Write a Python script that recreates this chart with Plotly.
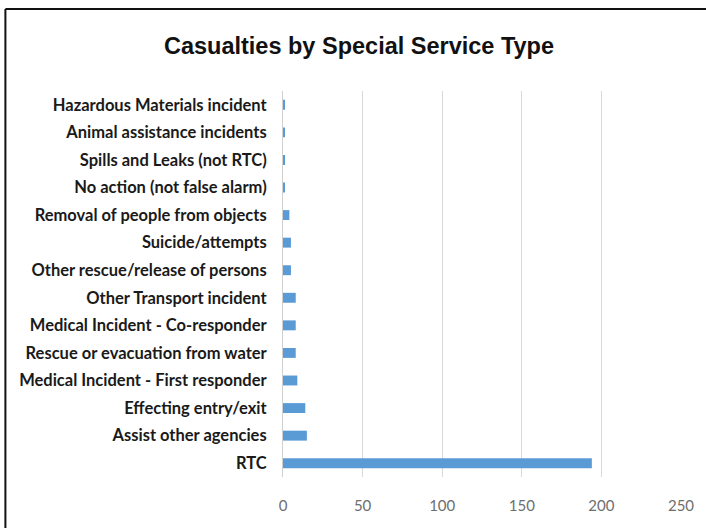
import plotly.graph_objects as go

# Special service types, listed top to bottom
categories = [
    "Hazardous Materials incident",
    "Animal assistance incidents",
    "Spills and Leaks (not RTC)",
    "No action (not false alarm)",
    "Removal of people from objects",
    "Suicide/attempts",
    "Other rescue/release of persons",
    "Other Transport incident",
    "Medical Incident - Co-responder",
    "Rescue or evacuation from water",
    "Medical Incident - First responder",
    "Effecting entry/exit",
    "Assist other agencies",
    "RTC",
]
casualties = [1, 1, 1, 1, 4, 5, 5, 8, 8, 8, 9, 14, 15, 194]
tick_values = [0, 50, 100, 150, 200, 250]

W, H = 706, 528

fig = go.Figure(
    go.Bar(
        x=casualties,
        y=categories,
        orientation="h",
        marker=dict(color="#5b9bd5", line=dict(width=0)),
        width=0.36,
    )
)

fig.update_layout(
    width=W,
    height=H,
    margin=dict(l=283, r=23, t=91, b=51),
    paper_bgcolor="white",
    plot_bgcolor="white",
    showlegend=False,
    title=dict(
        text="<b>Casualties by Special Service Type</b>",
        x=359 / W,
        xanchor="center",
        y=1 - 46 / H,
        yanchor="middle",
        font=dict(family="Liberation Sans Narrow, Arial Narrow, sans-serif",
                  size=23.5, color="#111111"),
    ),
    xaxis=dict(
        range=[0, 250],
        tickvals=tick_values,
        showgrid=True,
        gridcolor="#d9d9d9",
        gridwidth=1,
        zeroline=False,
        showline=False,
        ticks="",
        ticklabelstandoff=18,
        tickfont=dict(family="Lato, sans-serif", size=15, color="#6e6e6e"),
    ),
    yaxis=dict(
        autorange="reversed",
        showline=True,
        linecolor="#d0d0d0",
        linewidth=1,
        showgrid=False,
        ticks="",
        ticklabelstandoff=12,
        tickfont=dict(family="Lato, sans-serif", size=16.5, color="#1a1a1a",
                      weight="bold"),
    ),
    shapes=[
        # chart frame: top and left edges
        dict(type="line", xref="paper", yref="paper",
             x0=-279 / 400, x1=1.2, y0=1 + 82 / 386, y1=1 + 82 / 386,
             line=dict(color="#111111", width=2)),
        dict(type="line", xref="paper", yref="paper",
             x0=-279 / 400, x1=-279 / 400, y0=1 + 82 / 386, y1=-0.3,
             line=dict(color="#111111", width=2)),
    ],
)

fig.write_html("out.html")
